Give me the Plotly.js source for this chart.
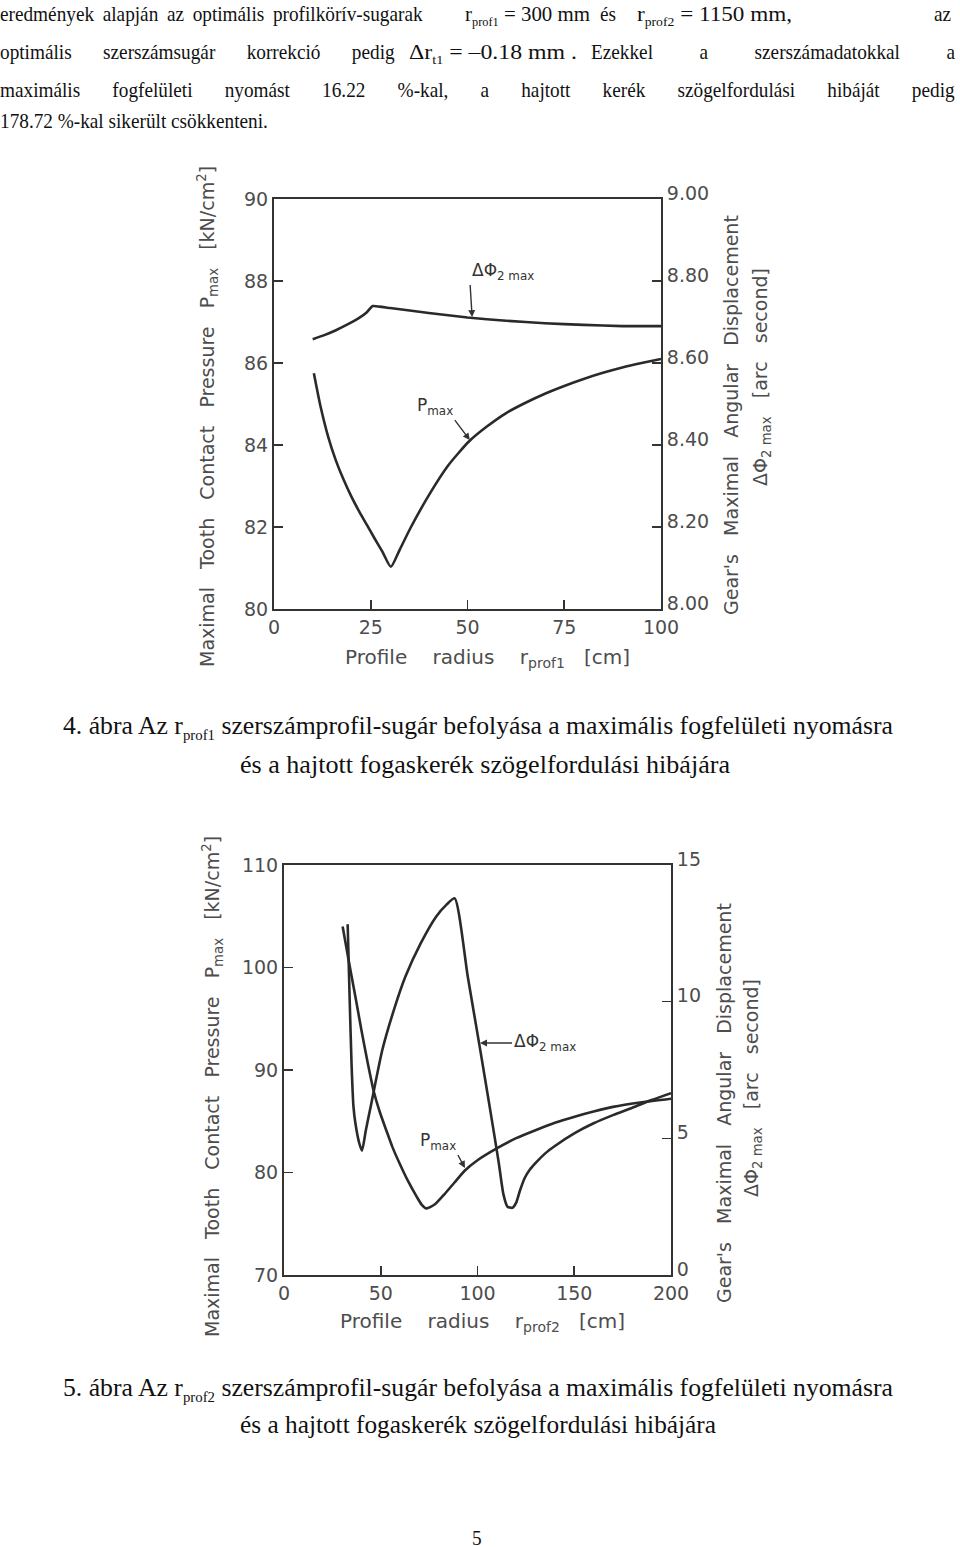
<!DOCTYPE html>
<html>
<head>
<meta charset="utf-8">
<script src="https://cdn.plot.ly/plotly-3.0.1.min.js"></script>
<style>
body{margin:0;background:#fff;}
#plot{position:absolute;left:0;top:0;width:960px;height:1547px;}
.t{position:absolute;font-family:"Liberation Serif","Times New Roman",serif;font-size:22px;line-height:22px;color:#111;white-space:nowrap;transform-origin:0 0;transform:scaleX(0.875);z-index:5;}
.j{text-align:justify;text-align-last:justify;white-space:normal;}
.t sub{font-size:13px;line-height:0;vertical-align:-5px;}
.cap{font-size:26px;line-height:26px;}
.cap sub{font-size:15px;vertical-align:-6px;}
</style>
</head>
<body>
<div id="plot"></div>
<!-- paragraph -->
<div class="t j" style="left:0;top:3px;width:483px;">eredmények alapján az optimális profilkörív-sugarak</div>
<div class="t fit" data-w="125" style="left:465px;top:3px;">r<sub>prof1</sub> = 300 mm</div>
<div class="t" style="left:600px;top:3px;">és</div>
<div class="t fit" data-w="155" style="left:637px;top:3px;">r<sub>prof2</sub> = 1150 mm,</div>
<div class="t" style="left:934px;top:3px;">az</div>
<div class="t j" style="left:0;top:41px;width:451px;">optimális szerszámsugár korrekció pedig</div>
<div class="t fit" data-w="168" style="left:409px;top:41px;">Δr<sub>t1</sub> = –0.18 mm&nbsp;.</div>
<div class="t j" style="left:591px;top:41px;width:416px;">Ezekkel a szerszámadatokkal a</div>
<div class="t j" style="left:0;top:79px;width:1091px;">maximális fogfelületi nyomást 16.22 %-kal, a hajtott kerék szögelfordulási hibáját pedig</div>
<div class="t" style="left:0;top:110px;">178.72 %-kal sikerült csökkenteni.</div>
<!-- captions -->
<div class="t cap fit" data-w="830" style="left:63px;top:713px;">4. ábra Az r<sub>prof1</sub> szerszámprofil-sugár befolyása a maximális fogfelületi nyomásra</div>
<div class="t cap fit" data-w="490" style="left:240px;top:752px;">és a hajtott fogaskerék szögelfordulási hibájára</div>
<div class="t cap fit" data-w="830" style="left:63px;top:1375px;">5. ábra Az r<sub>prof2</sub> szerszámprofil-sugár befolyása a maximális fogfelületi nyomásra</div>
<div class="t cap fit" data-w="476" style="left:240px;top:1412px;">és a hajtott fogaskerék szögelfordulási hibájára</div>
<div class="t" style="left:472px;top:1527px;">5</div>
<script>
// ---- Figure 4 data (r_prof1 in cm) ----
const r1Dphi = [10, 13, 16, 19, 22, 24, 25.5, 30, 40, 50, 60, 70, 80, 90, 100];
const dphi1  = [8.658, 8.668, 8.680, 8.694, 8.710, 8.724, 8.739, 8.734, 8.722, 8.711, 8.703, 8.697, 8.693, 8.690, 8.690];
const r1P    = [10.3, 12, 14, 16, 18, 20, 22, 24, 26, 28, 30.2, 32.5, 35.4, 40.3, 45, 50.3, 55, 60, 65, 70, 75, 80, 85, 90, 95, 100];
const pmax1  = [85.75, 84.95, 84.20, 83.62, 83.15, 82.74, 82.38, 82.05, 81.72, 81.40, 81.03, 81.45, 82.00, 82.82, 83.50, 84.08, 84.45, 84.78, 85.03, 85.25, 85.44, 85.61, 85.76, 85.89, 86.00, 86.10];
// ---- Figure 5 data (r_prof2 in cm) ----
const r2P    = [30.3, 33.5, 36.9, 40, 43.3, 46.4, 49.5, 52.8, 56, 59.7, 64, 68.7, 71, 73.6, 78, 83, 88, 93.5, 100, 110.4, 120, 130.3, 140, 150.2, 160, 170, 185, 200];
const pmax2  = [104.0, 100.6, 97.15, 93.9, 90.65, 87.9, 85.9, 84.15, 82.5, 80.9, 79.2, 77.6, 76.9, 76.5, 76.9, 77.9, 79.0, 80.2, 81.2, 82.4, 83.35, 84.15, 84.85, 85.45, 85.95, 86.4, 86.85, 87.2];
const r2Dphi = [32.9, 33.9, 34.9, 35.9, 36.9, 38.9, 40.3, 42.3, 44.8, 50.8, 56.8, 62.7, 70.7, 78.6, 84, 88.2, 95, 101.5, 107, 111, 113.4, 115.5, 118, 120, 122, 124.4, 127, 130.3, 135, 140, 150, 160, 170, 180, 190, 200];
const dphi2  = [12.83, 10.18, 7.75, 6.16, 5.55, 4.82, 4.55, 5.3, 6.16, 8.23, 9.70, 10.91, 12.14, 13.11, 13.55, 13.78, 10.9, 8.2, 5.85, 4.1, 2.95, 2.5, 2.46, 2.65, 3.1, 3.55, 3.85, 4.12, 4.45, 4.72, 5.18, 5.55, 5.85, 6.12, 6.40, 6.65];
// ---- tick labels ----
const x1Ticks = [0, 25, 50, 75, 100];
const y1Ticks = [80, 82, 84, 86, 88, 90];
const y2Ticks = [8.0, 8.2, 8.4, 8.6, 8.8, 9.0];
const y2TickText = ['8.00', '8.20', '8.40', '8.60', '8.80', '9.00'];
const x2Ticks = [0, 50, 100, 150, 200];
const y3Ticks = [70, 80, 90, 100, 110];
const y4Ticks = [0, 5, 10, 15];

const W = 960, H = 1547;
const px = v => v / W, py = v => 1 - v / H;
const FONT = 'DejaVu Sans, sans-serif';
const TXT = '#4d4d4d';
const LINE = '#2a2a2a';
const tickFont = {family: FONT, size: 19, color: TXT};

function ax(extra) {
  return Object.assign({
    showgrid: false, zeroline: false, showline: true, linecolor: '#333', linewidth: 2,
    ticks: 'inside', ticklen: 9, tickwidth: 1.6, tickcolor: '#333', tickfont: tickFont,
    fixedrange: true
  }, extra);
}

const curve = {shape: 'spline', smoothing: 0.6, color: LINE, width: 2.6};
const softCurve = {shape: 'spline', smoothing: 0.45, color: LINE, width: 2.6};
const traces = [
  {x: r1Dphi, y: dphi1, xaxis: 'x', yaxis: 'y2', mode: 'lines', line: softCurve, name: 'Δφ2max'},
  {x: r1P, y: pmax1, xaxis: 'x', yaxis: 'y', mode: 'lines', line: curve, name: 'Pmax'},
  {x: r2P, y: pmax2, xaxis: 'x2', yaxis: 'y3', mode: 'lines', line: curve, name: 'Pmax'},
  {x: r2Dphi, y: dphi2, xaxis: 'x2', yaxis: 'y4', mode: 'lines', line: curve, name: 'Δφ2max'}
];

const sp = '\u00a0\u00a0 ';
const titleFont = {family: FONT, size: 19, color: TXT};
const xTitleFont = {family: FONT, size: 20, color: TXT};
const labFont = {family: FONT, size: 17, color: '#333'};
function ptitle(text, x, y) {
  return {text: text, xref: 'paper', yref: 'paper', x: px(x), y: py(y), xanchor: 'center', yanchor: 'middle',
          textangle: -90, showarrow: false, font: titleFont};
}
function htitle(text, x, y) {
  return {text: text, xref: 'paper', yref: 'paper', x: px(x), y: py(y), xanchor: 'center', yanchor: 'middle',
          showarrow: false, font: xTitleFont};
}
// label with an arrow: (x, y) = arrow tip in data units, (dx, dy) = tail offset in px
function pointer(xr, yr, text, x, y, dx, dy, xa, ya) {
  return {text: text, xref: xr, yref: yr, x: x, y: y, ax: dx, ay: dy, showarrow: true,
          xanchor: xa, yanchor: ya, font: labFont,
          arrowhead: 2, arrowsize: 1, arrowwidth: 1.4, arrowcolor: '#333'};
}

const pTitle = 'Maximal' + sp + 'Tooth' + sp + 'Contact' + sp + 'Pressure' + sp + 'P<sub>max</sub>' + sp + '[kN/cm<sup>2</sup>]';
const gTitle = 'Gear\'s' + sp + 'Maximal' + sp + 'Angular' + sp + 'Displacement';
const dTitle = 'ΔΦ<sub>2 max</sub>' + sp + '[arc' + sp + 'second]';
const xsp = '\u00a0\u00a0\u00a0 ';

const annotations = [
  ptitle(pTitle, 208, 417),
  ptitle(gTitle, 731, 415),
  ptitle(dTitle, 761, 377),
  htitle('Profile' + xsp + 'radius' + xsp + 'r<sub>prof1</sub>' + sp + '[cm]', 487, 658),
  ptitle(pTitle, 212, 1087),
  ptitle(gTitle, 724, 1103),
  ptitle(dTitle, 752, 1088),
  htitle('Profile' + xsp + 'radius' + xsp + 'r<sub>prof2</sub>' + sp + '[cm]', 482, 1322),
  pointer('x', 'y2', 'ΔΦ<sub>2 max</sub>', 51.2, 8.712, -2, -32, 'left', 'bottom'),
  pointer('x', 'y', 'P<sub>max</sub>', 50.6, 84.12, -15, -20, 'right', 'bottom'),
  pointer('x2', 'y4', 'ΔΦ<sub>2 max</sub>', 101.3, 8.49, 32, 0, 'left', 'middle'),
  pointer('x2', 'y3', 'P<sub>max</sub>', 93.5, 80.44, -7, -13, 'right', 'bottom')
];

const layout = {
  width: W, height: H, margin: {l: 0, r: 0, t: 0, b: 0},
  paper_bgcolor: 'rgba(0,0,0,0)', plot_bgcolor: 'rgba(0,0,0,0)', showlegend: false,
  xaxis: ax({domain: [px(274), px(661)], anchor: 'y', range: [0, 100], tickvals: x1Ticks, mirror: true}),
  yaxis: ax({domain: [py(609), py(199)], anchor: 'x', range: [80, 90], tickvals: y1Ticks}),
  yaxis2: ax({overlaying: 'y', side: 'right', anchor: 'x', range: [8, 9], tickvals: y2Ticks, ticktext: y2TickText, ticklabelshift: -6}),
  xaxis2: ax({domain: [px(284), px(671)], anchor: 'y3', range: [0, 200], tickvals: x2Ticks, mirror: true}),
  yaxis3: ax({domain: [py(1275), py(865)], anchor: 'x2', range: [70, 110], tickvals: y3Ticks}),
  yaxis4: ax({overlaying: 'y3', side: 'right', anchor: 'x2', range: [0, 15], tickvals: y4Ticks, ticklabelshift: -6}),
  annotations: annotations
};

Plotly.newPlot('plot', traces, layout, {displayModeBar: false, staticPlot: true});

// scale each fitted text run horizontally to the width it takes in the page
function fitTexts() {
  document.querySelectorAll('.fit').forEach(el => {
    el.style.transform = 'none';
    const nat = el.getBoundingClientRect().width;
    const w = parseFloat(el.dataset.w);
    if (nat > 0) el.style.transform = 'scaleX(' + (w / nat) + ')';
  });
}
fitTexts();
if (document.fonts && document.fonts.ready) document.fonts.ready.then(fitTexts);
</script>
</body>
</html>
